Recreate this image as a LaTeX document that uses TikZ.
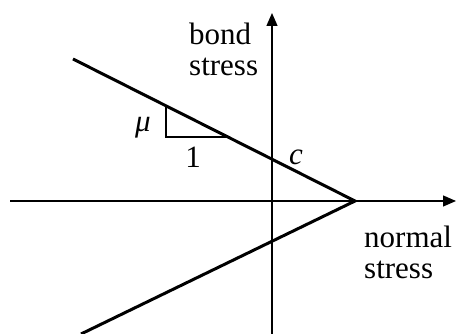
\documentclass[tikz,border=0pt]{standalone}
\usepackage{fontspec}
\setmainfont{Liberation Serif}
\usetikzlibrary{arrows.meta,positioning}

\begin{document}
\begin{tikzpicture}[x=1pt,y=1pt,line cap=butt,line join=miter,
  axis/.style={line width=1.3pt,-{Triangle[length=13pt,width=11pt]}},
  law/.style={line width=3pt},
  lbl/.style={font=\fontsize{31}{31}\selectfont,inner sep=0pt}]
\path[use as bounding box] (0,0) rectangle (456,334);
% axes
\coordinate (xl) at (10,133);
\coordinate (xr) at (456,133);
\coordinate (yb) at (272,0);
\coordinate (yt) at (272,321);
\draw[axis] (xl) -- (xr);
\draw[axis] (yb) -- (yt);
% failure envelope
\coordinate (apex) at (355,133);
\coordinate (up) at (73,275);
\coordinate (lo) at (81,0);
\draw[law] (up) -- (apex) -- (lo);
% slope triangle
\coordinate (ta) at (166,228);
\coordinate (tb) at (166,197);
\coordinate (tc) at (229,197);
\draw[line width=1.3pt] (ta) -- (tb) -- (tc);
\node[lbl] (mu) at (143,206) {\itshape μ};
\node[lbl] (one) at (193,177) {1};
\node[lbl] (c) at (296,177) {\itshape c};
% axis labels
\node[lbl,align=left,anchor=west] (bond) at (189,285) {bond\\stress};
\node[lbl,align=left,anchor=west] (normal) at (364,82) {normal\\stress};
\end{tikzpicture}
\end{document}
